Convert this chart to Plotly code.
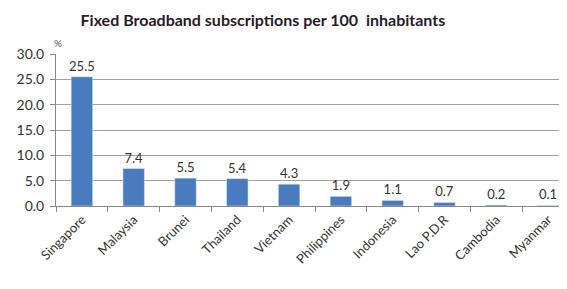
import plotly.graph_objects as go

countries = ["Singapore", "Malaysia", "Brunei", "Thailand", "Vietnam",
             "Philippines", "Indonesia", "Lao P.D.R", "Cambodia", "Myanmar"]
values = [25.5, 7.4, 5.5, 5.4, 4.3, 1.9, 1.1, 0.7, 0.2, 0.1]
labels = ["25.5", "7.4", "5.5", "5.4", "4.3", "1.9", "1.1", "0.7", "0.2", "0.1"]
y_ticks = [0, 5, 10, 15, 20, 25, 30]
y_tick_text = ["0.0", "5.0", "10.0", "15.0", "20.0", "25.0", "30.0"]

fig = go.Figure(go.Bar(
    x=countries, y=values, text=labels, textposition="outside",
    constraintext="none",
    textfont=dict(size=13, color="#333333", family="Lato"),
    marker=dict(color="#4a7bbf"), width=0.415, cliponaxis=False,
))

# page body has an 8px default margin; figure sized to the visible area
fig.update_layout(
    width=559, height=281,
    margin=dict(l=48, r=0, t=46, b=83, pad=0),
    paper_bgcolor="white", plot_bgcolor="white",
    showlegend=False,
    font=dict(family="Lato", size=13, color="#333333"),
    title=dict(text="<b>Fixed Broadband subscriptions per 100  inhabitants</b>",
               x=0.456, xanchor="center", y=0.957, yanchor="middle", automargin=False,
               font=dict(size=16, color="#2a1a2a", family="Lato")),
    xaxis=dict(range=[-0.5, 9.365], tickangle=-45, ticks="outside", tickson="boundaries",
               ticklen=5, tickcolor="#888888", showline=True, linecolor="#888888",
               showgrid=False, automargin=False, tickfont=dict(size=13, color="#333333")),
    yaxis=dict(range=[0, 30], tickvals=y_ticks, ticktext=y_tick_text,
               ticks="outside", ticklen=5, tickcolor="#888888",
               showline=True, linecolor="#888888", showgrid=True, automargin=False,
               gridcolor="#a0a0a0", gridwidth=1, zeroline=False, ticklabelstandoff=3,
               tickfont=dict(size=14, color="#333333")),
    annotations=[dict(text="%", x=0, xref="paper", xanchor="left", xshift=-4,
                      y=30, yref="y", yshift=11, yanchor="middle",
                      showarrow=False, font=dict(size=10, color="#555555"))],
)

fig.write_html("out.html")
